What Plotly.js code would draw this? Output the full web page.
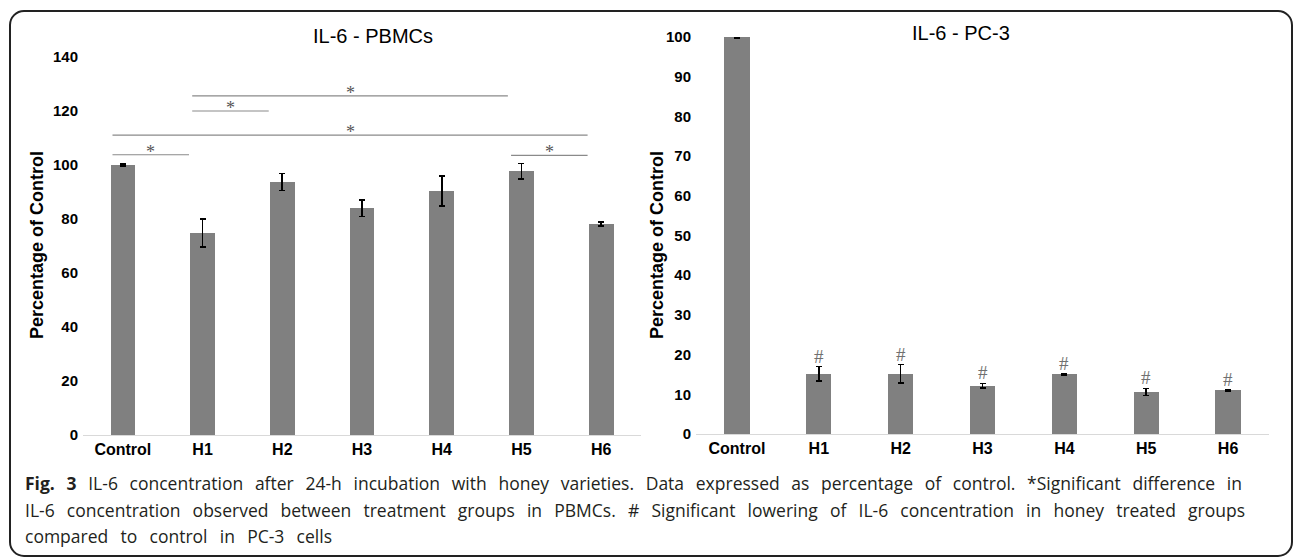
<!DOCTYPE html>
<html>
<head>
<meta charset="utf-8">
<script src="https://cdn.plot.ly/plotly-3.0.1.min.js"></script>
<style>
  html, body { margin: 0; padding: 0; background: #fff; }
  #wrap { position: relative; width: 1296px; height: 560px; overflow: hidden; }
  #chart { position: absolute; left: 0; top: 0; width: 1296px; height: 560px; }
  #frame { position: absolute; left: 9px; top: 10px; width: 1284px; height: 547px; box-sizing: border-box;
           border: 2px solid #222; border-radius: 15px; pointer-events: none; }
  #caption { position: absolute; left: 25px; top: 470px; font-family: "Open Sans", "Noto Sans", sans-serif;
             font-size: 17.5px; line-height: 26.5px; color: #231f20; }
  #caption .ln { white-space: nowrap; display: block; }
  #caption b { font-weight: 700; }
</style>
</head>
<body>
<div id="wrap">
  <div id="chart"></div>
  <div id="frame"></div>
  <div id="caption">
    <span class="ln" data-w="1217"><b>Fig. 3</b> IL-6 concentration after 24-h incubation with honey varieties. Data expressed as percentage of control. *Significant difference in</span>
    <span class="ln" data-w="1220">IL-6 concentration observed between treatment groups in PBMCs. # Significant lowering of IL-6 concentration in honey treated groups</span>
    <span class="ln" data-w="307">compared to control in PC-3 cells</span>
  </div>
</div>
<script>
// ---- data ----
const categories = ['Control', 'H1', 'H2', 'H3', 'H4', 'H5', 'H6'];
const pbmcValues = [100, 74.8, 93.7, 84.0, 90.4, 97.7, 78.1];
const pbmcErrors = [0.3, 5.2, 3.1, 3.1, 5.5, 2.9, 0.7];
const pc3Values = [100, 15.2, 15.2, 12.2, 15.0, 10.6, 11.0];
const pc3Errors = [0.2, 1.8, 2.3, 0.55, 0.2, 0.9, 0.2];
const sigFrom = ['Control', 'Control', 'H1', 'H1', 'H5'];
const sigTo = ['H1', 'H6', 'H2', 'H5', 'H6'];
const sigLevel = [103.8, 111.1, 120.0, 125.6, 103.6];
const hashMarked = ['H1', 'H2', 'H3', 'H4', 'H5', 'H6'];
const titleLeft = 'IL-6 - PBMCs';
const titleRight = 'IL-6 - PC-3';
const yTitle = 'Percentage of Control';

// ---- layout helpers ----
const W = 1296, H = 560;
const px = x => x / W;
const py = y => 1 - y / H;
const tickFontX = { family: 'Liberation Sans, Arial, sans-serif', size: 16, color: '#000', weight: 'bold' };
const tickFontY = { family: 'Liberation Sans, Arial, sans-serif', size: 15, color: '#000', weight: 'bold' };
const barColor = '#808080';

const traces = [
  { type: 'bar', x: categories, y: pbmcValues, xaxis: 'x', yaxis: 'y', width: 0.31,
    marker: { color: barColor }, hoverinfo: 'skip',
    error_y: { type: 'data', array: pbmcErrors, visible: true, color: '#000', thickness: 1.6, width: 3 } },
  { type: 'bar', x: categories, y: pc3Values, xaxis: 'x2', yaxis: 'y2', width: 0.31,
    marker: { color: barColor }, hoverinfo: 'skip',
    error_y: { type: 'data', array: pc3Errors, visible: true, color: '#000', thickness: 1.6, width: 3 } }
];

const shapes = [];
const annotations = [];
for (let i = 0; i < sigFrom.length; i++) {
  const x0 = categories.indexOf(sigFrom[i]) - 0.13;
  const x1 = categories.indexOf(sigTo[i]) - 0.17;
  shapes.push({ type: 'line', xref: 'x', yref: 'y', x0: x0, x1: x1, y0: sigLevel[i], y1: sigLevel[i],
                line: { color: '#8a8a8a', width: 1.2 } });
  annotations.push({ xref: 'x', yref: 'y', x: (x0 + x1) / 2, y: sigLevel[i], text: '*', showarrow: false,
                     yanchor: 'bottom', yshift: -9,
                     font: { family: 'Liberation Serif, serif', size: 18, color: '#555' } });
}
hashMarked.forEach(c => {
  const k = categories.indexOf(c);
  annotations.push({ xref: 'x2', yref: 'y2', x: c, y: pc3Values[k] + pc3Errors[k], text: '#', showarrow: false,
                     yanchor: 'bottom', yshift: -2,
                     font: { family: 'Liberation Serif, serif', size: 19, color: '#707070' } });
});
const titleFont = { family: 'Liberation Sans, Arial, sans-serif', size: 20, color: '#000' };
annotations.push({ xref: 'paper', yref: 'paper', x: px(373), y: py(36), text: titleLeft, showarrow: false,
                   xanchor: 'center', yanchor: 'middle', font: titleFont });
annotations.push({ xref: 'paper', yref: 'paper', x: px(961), y: py(33), text: titleRight, showarrow: false,
                   xanchor: 'center', yanchor: 'middle', font: titleFont });
const yTitleFont = { family: 'Liberation Sans, Arial, sans-serif', size: 18, color: '#000', weight: 'bold' };
annotations.push({ xref: 'paper', yref: 'paper', x: px(37), y: py(245), text: yTitle, showarrow: false,
                   textangle: -90, xanchor: 'center', yanchor: 'middle', font: yTitleFont });
annotations.push({ xref: 'paper', yref: 'paper', x: px(657), y: py(245), text: yTitle, showarrow: false,
                   textangle: -90, xanchor: 'center', yanchor: 'middle', font: yTitleFont });

const xBase = { type: 'category', showline: true, linecolor: '#d9d9d9', linewidth: 1, ticks: '',
                showgrid: false, zeroline: false, tickfont: tickFontX, fixedrange: true };
const yBase = { showgrid: false, zeroline: false, showline: false, ticks: '', tickfont: tickFontY,
                ticklabelstandoff: 4, fixedrange: true };

const layout = {
  width: W, height: H, margin: { l: 0, r: 0, t: 0, b: 0 },
  paper_bgcolor: 'rgba(0,0,0,0)', plot_bgcolor: 'rgba(0,0,0,0)',
  showlegend: false, bargap: 0,
  xaxis: Object.assign({}, xBase, { domain: [px(83), px(641)], anchor: 'y' }),
  yaxis: Object.assign({}, yBase, { domain: [py(435), py(57)], range: [0, 140], dtick: 20, tick0: 0, anchor: 'x' }),
  xaxis2: Object.assign({}, xBase, { domain: [px(696), px(1269)], anchor: 'y2' }),
  yaxis2: Object.assign({}, yBase, { domain: [py(434), py(37)], range: [0, 100], dtick: 10, tick0: 0, anchor: 'x2' }),
  shapes: shapes,
  annotations: annotations
};

Plotly.newPlot('chart', traces, layout, { staticPlot: true, displayModeBar: false });

// stretch caption lines to their widths via word spacing
function fitCaption() {
  document.querySelectorAll('#caption .ln').forEach(el => {
    el.style.wordSpacing = '0px';
    el.style.display = 'inline-block';
    const natural = el.getBoundingClientRect().width;
    const spaces = (el.textContent.match(/ /g) || []).length;
    const target = parseFloat(el.dataset.w);
    if (spaces > 0) el.style.wordSpacing = ((target - natural) / spaces) + 'px';
    el.style.display = 'block';
  });
}
if (document.fonts && document.fonts.ready) document.fonts.ready.then(fitCaption); else fitCaption();
fitCaption();
</script>
</body>
</html>
